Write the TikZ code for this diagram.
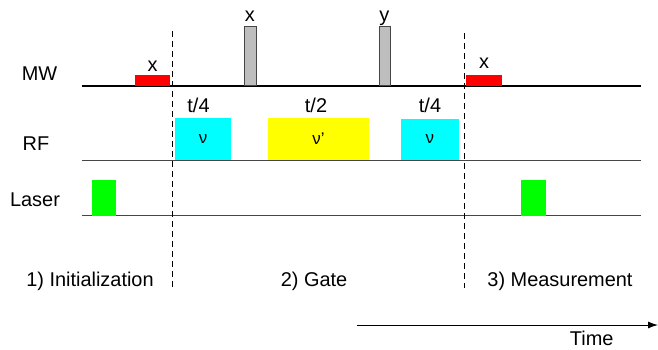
\documentclass[tikz,border=0pt]{standalone}
\usepackage{fontspec}
\setmainfont{Liberation Sans}
\usepackage{tikz}
\usetikzlibrary{arrows.meta,positioning}
\definecolor{pulsered}{RGB}{255,0,0}
\definecolor{pulsegray}{RGB}{190,190,190}
\definecolor{rfcyan}{RGB}{0,255,255}
\definecolor{rfyellow}{RGB}{255,255,0}
\definecolor{lasergreen}{RGB}{0,255,0}
\definecolor{trackgray}{RGB}{70,70,70}

\begin{document}
\begin{tikzpicture}[x=1bp, y=-1bp,
  lbl/.style={font=\fontsize{20}{23}\selectfont, anchor=base, inner sep=0pt},
  pulse/.style={anchor=south west, inner sep=0pt, font=\fontsize{17}{19}\selectfont},
  track/.style={line width=1.2bp, trackgray},
  phaseline/.style={dash pattern=on 6bp off 4bp, line width=1bp},
  arr/.style={-{Latex[length=10bp, width=7bp]}, line width=1bp}]
\useasboundingbox (0,0) rectangle (658,349);
% Row names
\node[lbl] (mwname) at (39.5,80) {MW};
\node[lbl] (rfname) at (36,150.7) {RF};
\node[lbl] (lasername) at (35,206) {Laser};
% Tracks
\coordinate (mwL) at (82,86);      \coordinate (mwR) at (641,86);
\coordinate (rfL) at (82,160.5);   \coordinate (rfR) at (641,160.5);
\coordinate (lzL) at (82,215.7);   \coordinate (lzR) at (641,215.7);
\draw[track, black] (mwL) -- (mwR);
\draw[track] (rfL) -- (rfR);
\draw[track] (lzL) -- (lzR);
% Phase borders
\coordinate (gateT) at (172.3,31);  \coordinate (gateB) at (172.3,287);
\coordinate (measT) at (464,33);    \coordinate (measB) at (464,288);
\draw[phaseline] (gateT) -- (gateB);
\draw[phaseline] (measT) -- (measB);
% MW pulses
\node[pulse, fill=pulsered, minimum width=35bp, minimum height=11bp] (mw1) at (135,86) {};
\node[pulse, fill=pulsegray, draw=trackgray, line width=0.8bp, minimum width=11.5bp, minimum height=59bp] (mw2) at (244,86) {};
\node[pulse, fill=pulsegray, draw=trackgray, line width=0.8bp, minimum width=11.5bp, minimum height=59bp] (mw3) at (378.5,86) {};
\node[pulse, fill=pulsered, minimum width=36bp, minimum height=11bp] (mw4) at (466,86) {};
\node[lbl] (mw1x) at (152.5,71.7) {x};
\node[lbl] (mw2x) at (249.8,21.7) {x};
\node[lbl] (mw3y) at (384.3,21.7) {y};
\node[lbl] (mw4x) at (484,68.3) {x};
% RF pulses
\node[pulse, fill=rfcyan, minimum width=56bp, minimum height=42bp] (rf1) at (175,160) {ν};
\node[pulse, fill=rfyellow, minimum width=100.7bp, minimum height=42bp] (rf2) at (268,160) {ν'};
\node[pulse, fill=rfcyan, minimum width=57.3bp, minimum height=41bp] (rf3) at (401,160) {ν};
\node[lbl] (rf1t) at (198.5,112) {t/4};
\node[lbl] (rf2t) at (316,112) {t/2};
\node[lbl] (rf3t) at (430,112) {t/4};
% Laser pulses
\node[pulse, fill=lasergreen, minimum width=24.7bp, minimum height=36bp] (lz1) at (91.3,216) {};
\node[pulse, fill=lasergreen, minimum width=25bp, minimum height=36bp] (lz2) at (521,216) {};
% Phase names
\node[lbl] (init) at (90,286) {1) Initialization};
\node[lbl] (gate) at (314,286) {2) Gate};
\node[lbl] (meas) at (560,286) {3) Measurement};
% Time axis
\coordinate (tL) at (357,325);
\coordinate (tR) at (658,325);
\draw[arr] (tL) -- (tR);
\node[lbl] (time) at (591.7,345.5) {Time};
\end{tikzpicture}
\end{document}
